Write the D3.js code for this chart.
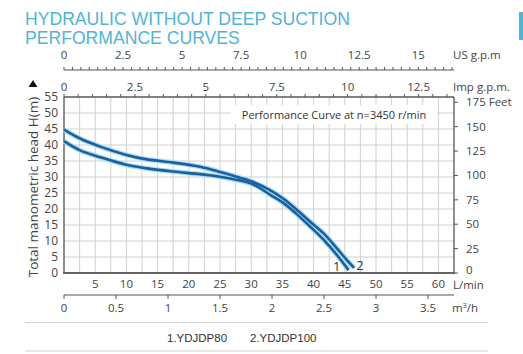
<!DOCTYPE html>
<html lang="en">
<head>
<meta charset="UTF-8">
<title>Hydraulic without deep suction - performance curves</title>
<script src="https://cdnjs.cloudflare.com/ajax/libs/d3/7.8.5/d3.min.js"></script>
<style>
    body { margin: 0; background: #fff; }
    svg { display: block; }
    .title { font-family: "Liberation Sans", Arial, sans-serif; font-size: 17.6px; fill: #4fb4d9; }
    .tick-label { font-family: "Open Sans", sans-serif; font-size: 11.5px; fill: #444; }
    .grid line { stroke: #cfcfcf; stroke-width: 1; }
    .legend { font-family: "Liberation Sans", Arial, sans-serif; font-size: 11.5px; fill: #333; }
</style>
</head>
<body>
<svg id="chart" width="523" height="354"></svg>
<script>
    // flow in L/min, head in m
    const flow1 = [0, 2.5, 5.8, 10, 13.3, 17.5, 21.8, 25, 28.2, 30.5, 33, 35.1, 37.3, 39.4, 41.6, 43.7, 45.6];
    const head1 = [41.2, 38.4, 36.2, 33.8, 32.7, 31.7, 30.9, 30.1, 28.9, 27.5, 24.5, 22.0, 18.4, 14.6, 10.4, 5.7, 0.9];
    const flow2 = [0, 2.5, 5.8, 10, 13.3, 17.5, 21.8, 25, 28.2, 30.5, 33, 35.1, 37.3, 39.4, 41.6, 43.7, 45.3, 46.5];
    const head2 = [44.8, 42.1, 39.5, 36.9, 35.5, 34.5, 33.2, 31.6, 29.8, 28.3, 25.9, 23.3, 19.8, 16.1, 12.4, 7.8, 4.1, 1.6];

    const headTicks = [0, 5, 10, 15, 20, 25, 30, 35, 40, 45, 50, 55];
    const feetTicks = [0, 25, 50, 75, 100, 125, 150, 175];
    const lminTicks = [5, 10, 15, 20, 25, 30, 35, 40, 45, 50, 55, 60];
    const m3hTicks = [0, 0.5, 1, 1.5, 2, 2.5, 3, 3.5];
    const usTicks = [0, 2.5, 5, 7.5, 10, 12.5, 15];
    const impTicks = [0, 2.5, 5, 7.5, 10, 12.5];
    const legendItems = ["1.YDJDP80", "2.YDJDP100"];

    const maxFlow = 62.5; // L/min at the right edge
    const svg = d3.select("#chart");
    const pLeft = 64, pRight = 454, pTop = 97, pBottom = 273;

    const x = d3.scaleLinear().domain([0, maxFlow]).range([pLeft, pRight]);
    const y = d3.scaleLinear().domain([0, 55]).range([pBottom, pTop]);
    const yFeet = d3.scaleLinear().domain([0, 55 / 0.3048]).range([pBottom, pTop]);
    const xM3h = d3.scaleLinear().domain([0, maxFlow * 0.06]).range([pLeft, pRight]);
    const xUs = d3.scaleLinear().domain([0, maxFlow / 3.785]).range([pLeft, pRight]);
    const xImp = d3.scaleLinear().domain([0, maxFlow / 4.546]).range([pLeft, pRight]);

    // title
    svg.append("text").attr("class", "title").attr("x", 25).attr("y", 25).text("HYDRAULIC WITHOUT DEEP SUCTION");
    svg.append("text").attr("class", "title").attr("x", 25).attr("y", 44).text("PERFORMANCE CURVES");

    // grid
    const grid = svg.append("g").attr("class", "grid");
    grid.selectAll(".v").data(d3.range(2.5, maxFlow, 2.5)).join("line")
        .attr("x1", d => x(d)).attr("x2", d => x(d)).attr("y1", pTop).attr("y2", pBottom);
    grid.selectAll(".h").data(headTicks.slice(1)).join("line")
        .attr("x1", pLeft).attr("x2", pRight).attr("y1", d => y(d)).attr("y2", d => y(d));

    // note box
    svg.append("rect").attr("x", 231).attr("y", 105).attr("width", 206).attr("height", 19).attr("fill", "#fff");
    svg.append("text").attr("class", "tick-label").attr("x", 334).attr("y", 119)
        .attr("text-anchor", "middle").style("font-size", "11px").style("fill", "#333")
        .text("Performance Curve at n=3450 r/min");

    // frame
    svg.append("line").attr("x1", pLeft).attr("x2", pRight).attr("y1", pTop).attr("y2", pTop).attr("stroke", "#777");
    svg.append("line").attr("x1", pRight).attr("x2", pRight).attr("y1", pTop).attr("y2", pBottom).attr("stroke", "#555").attr("stroke-width", 1.3);
    svg.append("line").attr("x1", pLeft).attr("x2", pLeft).attr("y1", pTop).attr("y2", pBottom).attr("stroke", "#666").attr("stroke-width", 1.5);
    svg.append("line").attr("x1", pLeft - 1).attr("x2", pRight + 1).attr("y1", pBottom).attr("y2", pBottom).attr("stroke", "#666").attr("stroke-width", 2);

    // left axis: head in m
    svg.append("g").selectAll("text").data(headTicks).join("text").attr("class", "tick-label")
        .attr("x", 58).attr("y", d => y(d) + 4).attr("text-anchor", "end").style("font-size", "12px").text(d => d);
    svg.append("text").attr("class", "tick-label").style("font-size", "13.5px")
        .attr("transform", `translate(38,${(pTop + pBottom) / 2 + 2}) rotate(-90)`)
        .attr("text-anchor", "middle").text("Total manometric head H(m)");
    svg.append("path").attr("d", "M33,80 L37.5,87 L28.5,87 Z").attr("fill", "#111");

    // right axis: feet
    const feet = svg.append("g");
    feet.selectAll("line").data(feetTicks).join("line")
        .attr("x1", pRight).attr("x2", pRight + 4).attr("y1", d => yFeet(d)).attr("y2", d => yFeet(d)).attr("stroke", "#555");
    feet.selectAll("text").data(feetTicks).join("text").attr("class", "tick-label")
        .attr("x", 466).attr("y", d => d === 0 ? yFeet(d) + 1 : yFeet(d) + 4).text(d => d === 175 ? "175 Feet" : d);

    // bottom axis: L/min
    svg.append("g").selectAll("text").data(lminTicks).join("text").attr("class", "tick-label")
        .attr("x", d => x(d)).attr("y", 288).attr("text-anchor", "middle").text(d => d);
    svg.append("text").attr("class", "tick-label").attr("x", 453).attr("y", 289).text("L/min");

    // m3/h axis
    const m3 = svg.append("g");
    m3.append("line").attr("x1", pLeft).attr("x2", pRight).attr("y1", 295).attr("y2", 295).attr("stroke", "#555");
    m3.selectAll("line.t").data(m3hTicks).join("line").attr("class", "t")
        .attr("x1", d => xM3h(d)).attr("x2", d => xM3h(d)).attr("y1", 295).attr("y2", 299).attr("stroke", "#555");
    m3.selectAll("text").data(m3hTicks).join("text").attr("class", "tick-label")
        .attr("x", d => xM3h(d)).attr("y", 312).attr("text-anchor", "middle").text(d => d);
    svg.append("text").attr("class", "tick-label").attr("x", 452).attr("y", 312).html("m<tspan dy='-4' font-size='7'>3</tspan><tspan dy='4'>/h</tspan>");

    // top axes: US g.p.m and Imp g.p.m
    function topAxis(scale, ticks, minorStep, lineY, labelY, unit) {
        const g = svg.append("g");
        g.append("line").attr("x1", pLeft).attr("x2", pRight).attr("y1", lineY).attr("y2", lineY).attr("stroke", "#555");
        g.selectAll("line.m").data(d3.range(0, scale.domain()[1], minorStep)).join("line").attr("class", "m")
            .attr("x1", d => scale(d)).attr("x2", d => scale(d)).attr("y1", lineY).attr("y2", lineY - 3).attr("stroke", "#555");
        g.selectAll("text").data(ticks).join("text").attr("class", "tick-label")
            .attr("x", d => scale(d)).attr("y", labelY).attr("text-anchor", "middle").text(d => d);
        g.append("text").attr("class", "tick-label").attr("x", 453).attr("y", labelY).text(unit);
    }
    topAxis(xUs, usTicks, 2.5 / 7, 70, 59, "US g.p.m");
    topAxis(xImp, impTicks, 0.5, pTop, 91, "Imp g.p.m.");

    // curves
    const line = d3.line().x(d => x(d[0])).y(d => y(d[1])).curve(d3.curveCatmullRom);
    const curves = [d3.zip(flow1, head1), d3.zip(flow2, head2)];
    curves.forEach(pts => {
        svg.append("path").attr("d", line(pts)).attr("fill", "none").attr("stroke", "#a6def5").attr("stroke-width", 5);
    });
    curves.forEach(pts => {
        svg.append("path").attr("d", line(pts)).attr("fill", "none").attr("stroke", "#1c5f9f").attr("stroke-width", 2.6);
    });
    svg.append("text").attr("class", "tick-label").style("font-size", "13px").style("fill", "#333")
        .attr("x", x(flow1[flow1.length - 1]) - 8).attr("y", 271).attr("text-anchor", "end").text("1");
    svg.append("text").attr("class", "tick-label").style("font-size", "13px").style("fill", "#333")
        .attr("x", x(flow2[flow2.length - 1]) + 2).attr("y", 270).text("2");

    // legend
    svg.append("line").attr("x1", 25).attr("x2", 488).attr("y1", 322.5).attr("y2", 322.5).attr("stroke", "#cfcfcf");
    svg.append("line").attr("x1", 25).attr("x2", 488).attr("y1", 351).attr("y2", 351).attr("stroke", "#cfcfcf");
    svg.append("text").attr("class", "legend").attr("x", 167).attr("y", 342).text(legendItems[0]);
    svg.append("text").attr("class", "legend").attr("x", 250).attr("y", 342).text(legendItems[1]);

    // edge of neighbouring panel
    svg.append("rect").attr("x", 519).attr("y", 12).attr("width", 4).attr("height", 28).attr("fill", "#4fb4d9");
</script>
</body>
</html>
